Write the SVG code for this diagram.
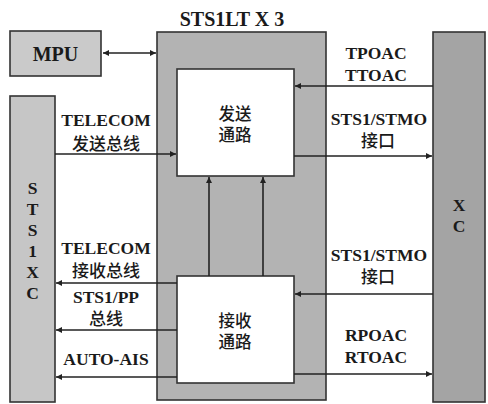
<svg xmlns="http://www.w3.org/2000/svg" width="488" height="404" viewBox="0 0 488 404">
<defs>
<marker id="ah" viewBox="0 0 10 10" refX="10" refY="5" markerWidth="8" markerHeight="6" markerUnits="userSpaceOnUse" orient="auto-start-reverse">
<path d="M0,0 L10,5 L0,10 z" fill="#222"/>
</marker>
<style>
.box{stroke:#333;stroke-width:1.6}
.t{font-family:"Liberation Serif","Noto Sans CJK SC",serif;font-weight:bold;font-size:17.5px;fill:#1a1a1a;text-anchor:middle}
.c{font-family:"Noto Sans CJK SC","Liberation Serif",sans-serif;font-weight:500;font-size:17px;fill:#1a1a1a;text-anchor:middle}
.b{font-family:"Liberation Serif","Noto Sans CJK SC",serif;font-weight:500;font-size:16.5px;fill:#1a1a1a;text-anchor:middle}
.ln{stroke:#222;stroke-width:1.6;fill:none}
.a{marker-end:url(#ah)}
</style>
</defs>
<rect width="488" height="404" fill="#fff"/>
<g id="mpu">
<rect class="box" x="10" y="31" width="91" height="45" fill="#cacaca"/>
<text class="t" x="55.5" y="61" style="font-size:20px">MPU</text>
</g>
<g id="sts1lt">
<text class="t" x="232" y="26" style="font-size:20px">STS1LT X 3</text>
<rect class="box" x="157" y="32" width="169" height="368" fill="#b3b3b3"/>
</g>
<g id="send">
<rect class="box" x="177" y="69" width="117" height="107" fill="#fff"/>
<text class="b" x="235" y="120">发送</text>
<text class="b" x="235" y="141">通路</text>
</g>
<g id="recv">
<rect class="box" x="177" y="276" width="117" height="107" fill="#fff"/>
<text class="b" x="235" y="327">接收</text>
<text class="b" x="235" y="348">通路</text>
</g>
<g id="sts1xc">
<rect class="box" x="10" y="96" width="45" height="306" fill="#c6c6c6"/>
<text class="t" x="32.5" y="194">S</text>
<text class="t" x="32.5" y="215">T</text>
<text class="t" x="32.5" y="236">S</text>
<text class="t" x="32.5" y="257">1</text>
<text class="t" x="32.5" y="278">X</text>
<text class="t" x="32.5" y="299">C</text>
</g>
<g id="xc">
<rect class="box" x="433" y="32" width="52" height="370" fill="#a4a4a4"/>
<text class="t" x="459" y="211">X</text>
<text class="t" x="459" y="232">C</text>
</g>
<g id="connectors">
<line class="ln a" x1="103" y1="53" x2="156" y2="53" style="marker-start:url(#ah)"/>
<line class="ln a" x1="55" y1="154" x2="176" y2="154"/>
<line class="ln a" x1="177" y1="283" x2="56" y2="283"/>
<line class="ln a" x1="177" y1="330" x2="56" y2="330"/>
<line class="ln a" x1="177" y1="377" x2="56" y2="377"/>
<line class="ln a" x1="433" y1="86" x2="295" y2="86"/>
<line class="ln a" x1="294" y1="156" x2="432" y2="156"/>
<line class="ln a" x1="433" y1="294" x2="295" y2="294"/>
<line class="ln a" x1="294" y1="374" x2="432" y2="374"/>
<line class="ln a" x1="209" y1="276" x2="209" y2="177"/>
<line class="ln a" x1="263" y1="276" x2="263" y2="177"/>
</g>
<g id="labels">
<text class="t" x="106" y="126">TELECOM</text>
<text class="c" x="106" y="150">发送总线</text>
<text class="t" x="106" y="254">TELECOM</text>
<text class="c" x="106" y="277">接收总线</text>
<text class="t" x="106" y="303">STS1/PP</text>
<text class="c" x="106" y="325">总线</text>
<text class="t" x="106" y="365">AUTO-AIS</text>
<text class="t" x="376" y="59">TPOAC</text>
<text class="t" x="376" y="81">TTOAC</text>
<text class="t" x="379" y="125">STS1/STMO</text>
<text class="c" x="378" y="147">接口</text>
<text class="t" x="379" y="261">STS1/STMO</text>
<text class="c" x="378" y="283">接口</text>
<text class="t" x="376" y="341">RPOAC</text>
<text class="t" x="376" y="363">RTOAC</text>
</g>
</svg>
